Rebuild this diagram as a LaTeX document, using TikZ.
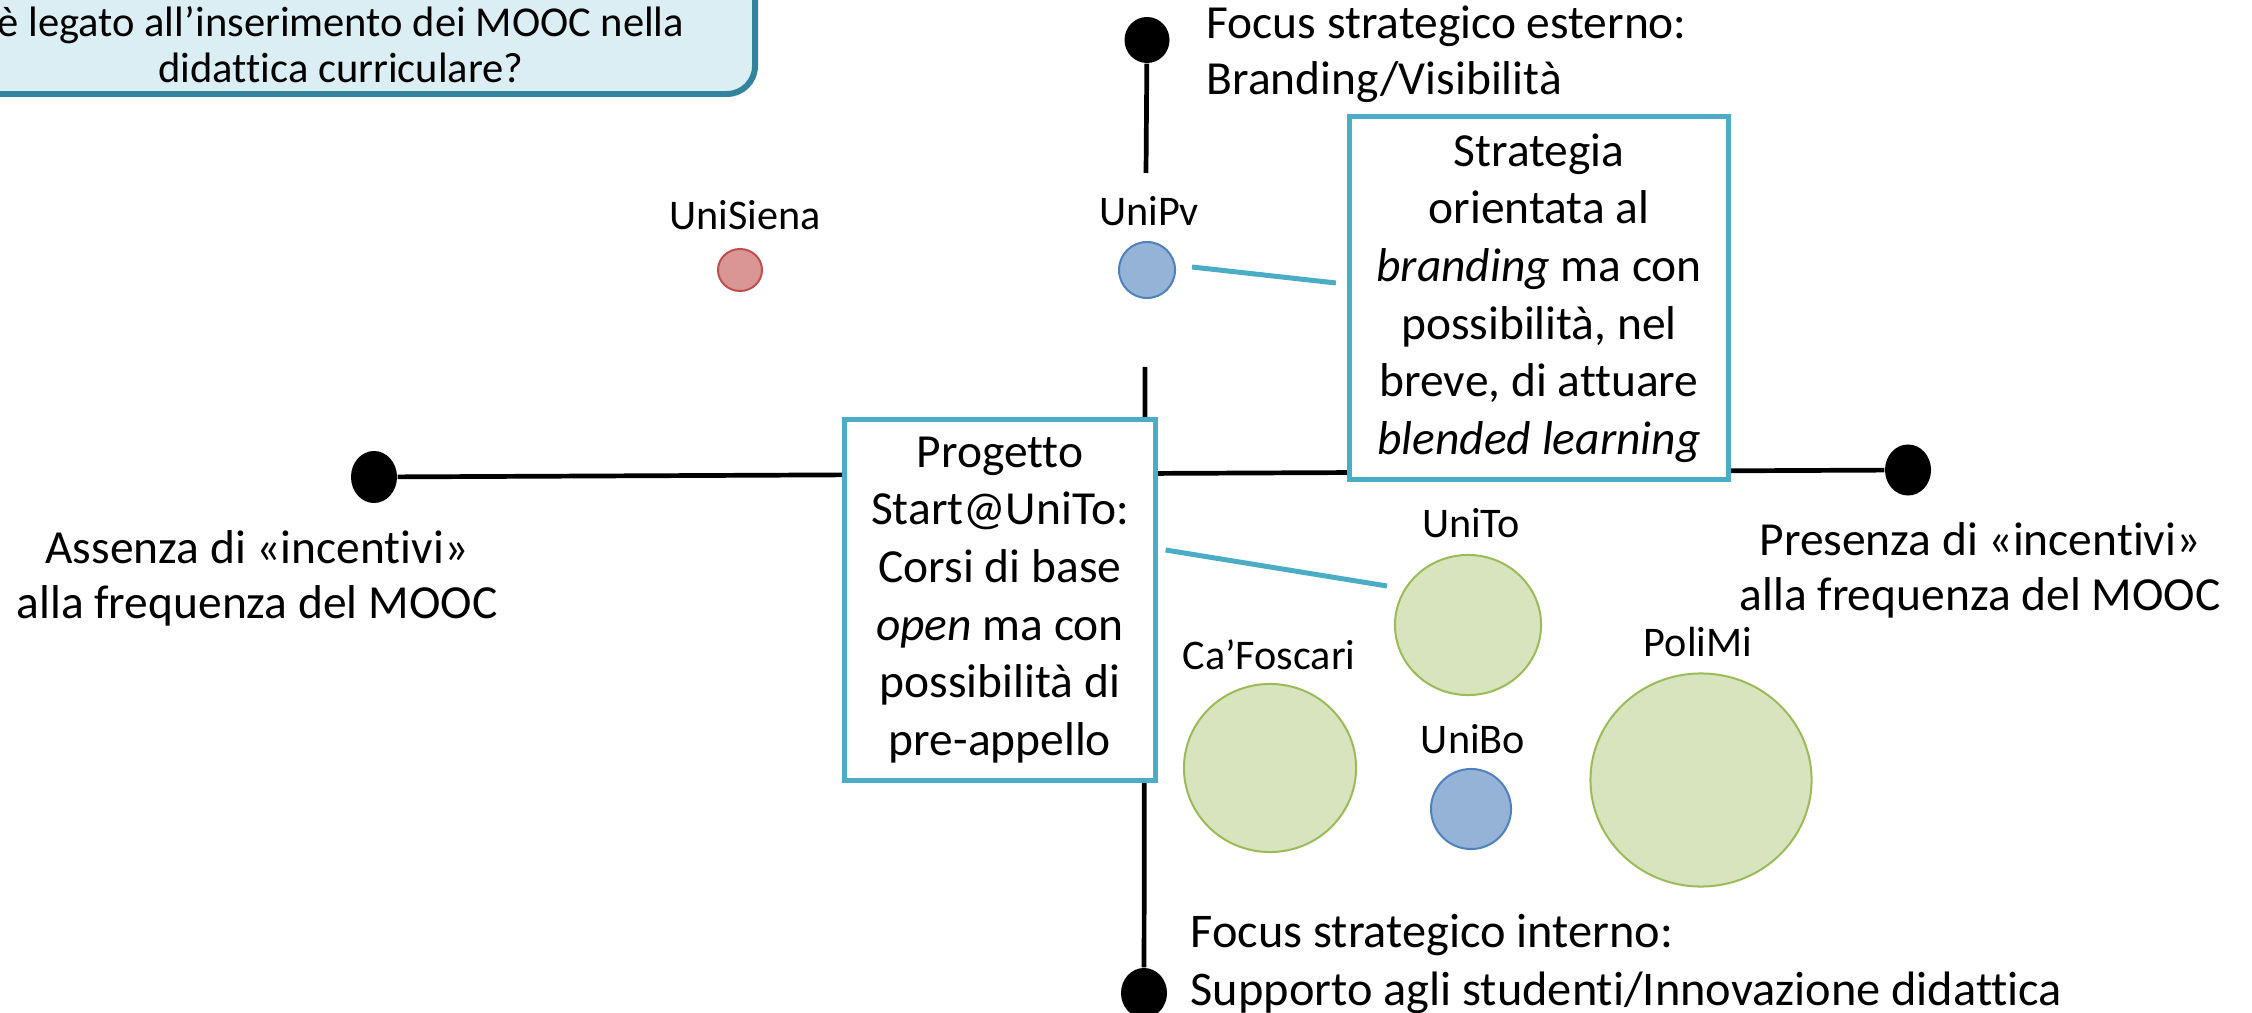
\documentclass[tikz,border=0pt]{standalone}
\usepackage{fontspec}
\setmainfont{Carlito}[Ligatures=NoCommon]
\usetikzlibrary{shapes.geometric,calc}
\definecolor{accteal}{HTML}{4BACC6}
\definecolor{qborder}{HTML}{31849B}
\definecolor{qfill}{HTML}{DAEEF3}
\definecolor{gfill}{HTML}{D7E4BD}
\definecolor{gline}{HTML}{9BBB59}
\definecolor{bfill}{HTML}{95B3D7}
\definecolor{bline}{HTML}{4F81BD}
\definecolor{rfill}{HTML}{D99694}
\definecolor{rline}{HTML}{C0504D}
\begin{document}
\begin{tikzpicture}[x=0.01cm,y=-0.01cm,
  axisline/.style={line width=1.34pt, draw=black},
  dotnode/.style={ellipse, fill=black, inner sep=0pt},
  unicirc/.style={ellipse, inner sep=0pt, line width=0.57pt},
  gcirc/.style={unicirc, draw=gline, fill=gfill},
  bcirc/.style={unicirc, draw=bline, fill=bfill},
  rcirc/.style={unicirc, draw=rline, fill=rfill},
  txtbox/.style={draw=accteal, fill=white, line width=1.42pt, align=center, inner sep=0pt,
    font=\fontsize{13.5}{16.4}\selectfont},
  conn/.style={draw=accteal, line width=1.42pt},
  lbl/.style={inner sep=0pt, font=\fontsize{12}{14}\selectfont},
  axlbl/.style={inner sep=0pt, align=center, font=\fontsize{13.5}{15.6}\selectfont},
  focuslbl/.style={inner sep=0pt, align=left, font=\fontsize{13.5}{16}\selectfont},
  focuslblb/.style={inner sep=0pt, align=left, font=\fontsize{13.75}{16.3}\selectfont},
  qtext/.style={inner sep=0pt, align=center, font=\fontsize{12.1}{13.1}\selectfont}
]
\path[use as bounding box] (0,0) rectangle (2252,1013);
\fill[white] (0,0) rectangle (2252,1013);
\clip (0,0) rectangle (2252,1013);

% question box (cut by the page)
\draw[draw=qborder, fill=qfill, line width=1.7pt, rounded corners=0.28cm] (-200,-200) rectangle (755,94);
\node[qtext] (q) at (341,45) {è legato all’inserimento dei MOOC nella\\didattica curriculare?};

% axes
\node[dotnode, minimum width=0.46cm, minimum height=0.52cm] (ldot) at (374,477) {};
\node[dotnode, minimum width=0.46cm, minimum height=0.51cm] (rdot) at (1908,470) {};
\node[dotnode, minimum width=0.45cm, minimum height=0.46cm] (tdot) at (1147,40) {};
\node[dotnode, minimum width=0.46cm, minimum height=0.50cm] (bdot) at (1144,993) {};
\coordinate (va) at (1146,173);
\coordinate (vb) at (1145,367);
\draw[axisline] (ldot) -- (rdot);
\draw[axisline] (tdot) -- (va);
\draw[axisline] (vb) -- (bdot);

% axis labels
\node[axlbl] (lassenza) at (257,578) {Assenza di «incentivi»\\alla frequenza del MOOC};
\node[axlbl] (lpresenza) at (1980,570) {Presenza di «incentivi»\\alla frequenza del MOOC};
\node[focuslbl, anchor=west] (lest) at (1206,54) {Focus strategico esterno:\\Branding/Visibilità};
\node[focuslblb, anchor=west] (lint) at (1190,964) {Focus strategico interno:\\Supporto agli studenti/Innovazione didattica};

% universities
\node[rcirc, minimum width=0.44cm, minimum height=0.42cm] (siena) at (740,270) {};
\node[lbl] (lsiena) at (745,215) {UniSiena};
\node[bcirc, minimum width=0.56cm, minimum height=0.56cm] (unipv) at (1147,270) {};
\node[lbl] (lunipv) at (1149,211) {UniPv};
\node[gcirc, minimum width=1.46cm, minimum height=1.40cm] (unito) at (1468,625) {};
\node[lbl] (lunito) at (1471,523) {UniTo};
\node[gcirc, minimum width=1.72cm, minimum height=1.68cm] (cafoscari) at (1270,768) {};
\node[lbl] (lcafoscari) at (1269,655) {Ca’Foscari};
\node[bcirc, minimum width=0.80cm, minimum height=0.80cm] (unibo) at (1471,809) {};
\node[lbl] (lunibo) at (1473,739) {UniBo};
\node[gcirc, minimum width=2.21cm, minimum height=2.13cm] (polimi) at (1701,780) {};
\node[lbl] (lpolimi) at (1698,642) {PoliMi};

% text boxes
\node[txtbox, minimum width=3.79cm, minimum height=3.62cm] (strat) at (1539,298) {Strategia\\orientata al\\\textit{branding} ma con\\possibilità, nel\\breve, di attuare\\\textit{blended learning}};
\node[txtbox, minimum width=3.10cm, minimum height=3.61cm] (proj) at (1000,600) {Progetto\\Start@UniTo:\\Corsi di base\\\textit{open} ma con\\possibilità di\\pre-appello};

% connectors
\draw[conn] ([shift={(16,-3)}]unipv.east) -- ([shift={(-11,-15)}]strat.west);
\draw[conn] ([shift={(8,-50)}]proj.east) -- ([shift={(-7,-39)}]unito.west);
\end{tikzpicture}
\end{document}
